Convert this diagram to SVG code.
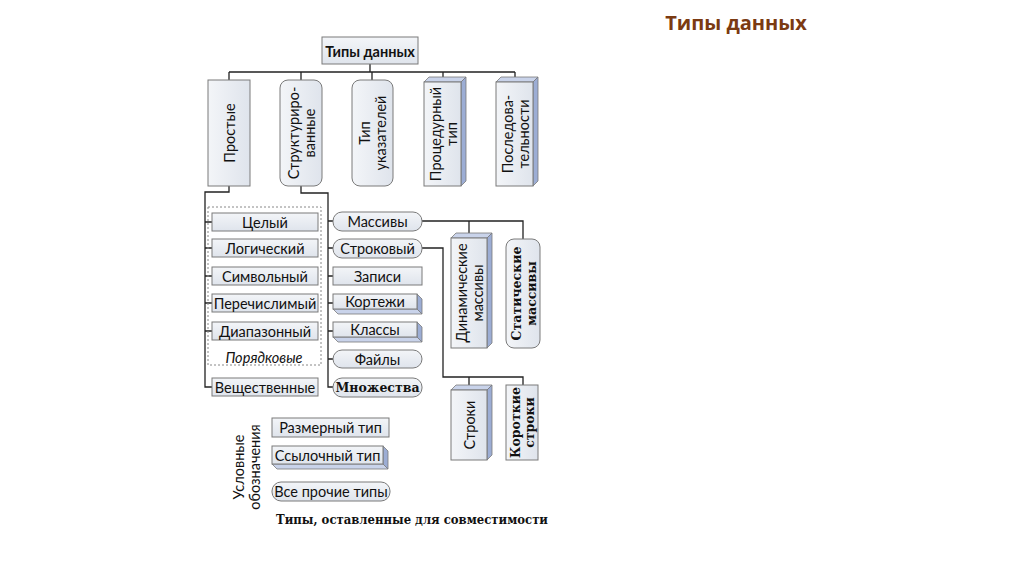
<svg xmlns="http://www.w3.org/2000/svg" width="1024" height="574" viewBox="0 0 1024 574">
<defs>
<linearGradient id="g" x1="0" y1="0" x2="0" y2="1"><stop offset="0" stop-color="#f3f5f8"/><stop offset="1" stop-color="#dfe4ec"/></linearGradient>
<linearGradient id="gv" x1="0" y1="0" x2="1" y2="0"><stop offset="0" stop-color="#f3f5f8"/><stop offset="1" stop-color="#dfe4ec"/></linearGradient>
<style>
.b{fill:url(#g);stroke:#7a7a7a;stroke-width:1}
.bv{fill:url(#gv);stroke:#7a7a7a;stroke-width:1}
.side{fill:#9cadd4;stroke:#7a7a7a;stroke-width:0.8}
.top{fill:#c9d3ea;stroke:#7a7a7a;stroke-width:0.8}
.t{font-family:Lato,"Open Sans","Liberation Sans",sans-serif;font-size:14.5px;fill:#111;text-anchor:middle;dominant-baseline:central}
.s{font-family:"DejaVu Serif","Liberation Serif",serif;font-weight:bold;font-size:12.5px;fill:#111;text-anchor:middle;dominant-baseline:central}
.c{fill:none;stroke:#222;stroke-width:1.3}
</style>
</defs>
<rect width="1024" height="574" fill="#fff"/>
<text x="736" y="22" font-family="'Open Sans','Liberation Sans',sans-serif" font-weight="bold" font-size="20" fill="#7b3a12" text-anchor="middle" dominant-baseline="central">Типы данных</text>

<g id="connectors">
<path class="c" d="M229,72H515M370,64V72M229,72V80M301,72V80M372,72V80M443,72V80M515,72V80"/>
<path class="c" d="M229,186V192H205V387H212M205,222H212M205,248H212M205,276H212M205,303H212M205,331H212"/>
<path class="c" d="M301,186V193H328V387H333M328,221H333M328,248H333M328,276H333M328,303H333M328,331H333M328,359H333"/>
<path class="c" d="M422,221H523V239M469,221V233"/>
<path class="c" d="M422,248H443V377H523V385M469,377V385"/>
</g>

<g id="root"><rect class="b" x="322" y="37" width="96" height="27"/><text class="t" x="370" y="51" font-weight="bold" font-size="15">Типы данных</text></g>

<g id="n-prostye"><rect class="bv" x="208" y="80" width="42" height="106"/><text class="t" transform="translate(229,133) rotate(-90)">Простые</text></g>
<g id="n-struct"><rect class="bv" x="280" y="80" width="42" height="106" rx="8"/><text class="t" transform="translate(301,133) rotate(-90)"><tspan x="0" y="-8">Структуриро-</tspan><tspan x="0" y="8">ванные</tspan></text></g>
<g id="n-ptr"><rect class="bv" x="352" y="80" width="41" height="106" rx="8"/><text class="t" transform="translate(372,133) rotate(-90)"><tspan x="0" y="-8">Тип</tspan><tspan x="0" y="8">указателей</tspan></text></g>
<g id="n-proc"><polygon class="top" points="424,82 429,77 466,77 461,82"/><polygon class="side" points="461,82 466,77 466,181 461,186"/><rect class="bv" x="424" y="82" width="37" height="104"/><text class="t" transform="translate(442.5,134) rotate(-90)"><tspan x="0" y="-8">Процедурный</tspan><tspan x="0" y="8">тип</tspan></text></g>
<g id="n-seq"><polygon class="top" points="496,82 501,77 538,77 533,82"/><polygon class="side" points="533,82 538,77 538,181 533,186"/><rect class="bv" x="496" y="82" width="37" height="104"/><text class="t" transform="translate(514.5,134) rotate(-90)"><tspan x="0" y="-8">Последова-</tspan><tspan x="0" y="8">тельности</tspan></text></g>

<g id="ordinal"><rect x="208" y="207" width="113" height="158" fill="none" stroke="#888" stroke-dasharray="2,2"/><text class="t" x="264" y="357" font-style="italic">Порядковые</text></g>
<g id="n-cel"><rect class="b" x="212" y="213" width="106" height="18"/><text class="t" x="265" y="222">Целый</text></g>
<g id="n-log"><rect class="b" x="212" y="239" width="106" height="18"/><text class="t" x="265" y="248">Логический</text></g>
<g id="n-sim"><rect class="b" x="212" y="267" width="106" height="18"/><text class="t" x="265" y="276">Символьный</text></g>
<g id="n-per"><rect class="b" x="212" y="294" width="106" height="18"/><text class="t" x="265" y="303">Перечислимый</text></g>
<g id="n-dia"><rect class="b" x="212" y="322" width="106" height="18"/><text class="t" x="265" y="331">Диапазонный</text></g>
<g id="n-ves"><rect class="b" x="212" y="378" width="106" height="18"/><text class="t" x="265" y="387">Вещественные</text></g>

<g id="n-mas"><rect class="b" x="333" y="212" width="89" height="19" rx="9"/><text class="t" x="377.5" y="221.5">Массивы</text></g>
<g id="n-str"><rect class="b" x="333" y="239" width="89" height="19" rx="9"/><text class="t" x="377.5" y="248.5">Строковый</text></g>
<g id="n-zap"><rect class="b" x="333" y="267" width="89" height="18"/><text class="t" x="377.5" y="276">Записи</text></g>
<g id="n-kor"><polygon class="side" points="417,294 422,299 422,314 417,309"/><polygon class="top" points="333,309 417,309 422,314 338,314"/><rect class="b" x="333" y="294" width="84" height="15"/><text class="t" x="375" y="301.5">Кортежи</text></g>
<g id="n-kla"><polygon class="side" points="417,322 422,327 422,342 417,337"/><polygon class="top" points="333,337 417,337 422,342 338,342"/><rect class="b" x="333" y="322" width="84" height="15"/><text class="t" x="375" y="329.5">Классы</text></g>
<g id="n-fai"><rect class="b" x="333" y="350" width="89" height="18" rx="9"/><text class="t" x="377.5" y="359">Файлы</text></g>
<g id="n-mno"><rect class="b" x="333" y="378" width="89" height="19" rx="9"/><text class="s" x="377.5" y="387.5">Множества</text></g>

<g id="n-dyn"><polygon class="top" points="451,238 456,233 492,233 487,238"/><polygon class="side" points="487,238 492,233 492,343 487,348"/><rect class="bv" x="451" y="238" width="36" height="110"/><text class="t" transform="translate(469,293) rotate(-90)"><tspan x="0" y="-8">Динамические</tspan><tspan x="0" y="8">массивы</tspan></text></g>
<g id="n-stat"><rect class="bv" x="506" y="239" width="34" height="109" rx="8"/><text class="s" transform="translate(523,293.5) rotate(-90)" font-size="12"><tspan x="0" y="-7.5">Статические</tspan><tspan x="0" y="7.5">массивы</tspan></text></g>
<g id="n-stroki"><polygon class="top" points="451,390 456,385 492,385 487,390"/><polygon class="side" points="487,390 492,385 492,455 487,460"/><rect class="bv" x="451" y="390" width="36" height="70"/><text class="t" transform="translate(469,425) rotate(-90)">Строки</text></g>
<g id="n-short"><rect class="bv" x="506" y="385" width="32" height="75"/><text class="s" transform="translate(522,422.5) rotate(-90)" font-size="12"><tspan x="0" y="-7">Короткие</tspan><tspan x="0" y="7">строки</tspan></text></g>

<g id="legend">
<text class="t" transform="translate(246,467) rotate(-90)"><tspan x="0" y="-8">Условные</tspan><tspan x="0" y="8">обозначения</tspan></text>
<rect class="b" x="272" y="418" width="117" height="19"/><text class="t" x="330.5" y="427.5">Размерный тип</text>
<polygon class="side" points="383,446 388,451 388,469 383,464"/><polygon class="top" points="272,464 383,464 388,469 277,469"/><rect class="b" x="272" y="446" width="111" height="18"/><text class="t" x="327.5" y="455">Ссылочный тип</text>
<rect class="b" x="272" y="482" width="118" height="19" rx="9"/><text class="t" x="331" y="491.5">Все прочие типы</text>
<text class="s" x="412" y="519" font-size="13" textLength="272" lengthAdjust="spacingAndGlyphs">Типы, оставленные для совместимости</text>
</g>
</svg>
